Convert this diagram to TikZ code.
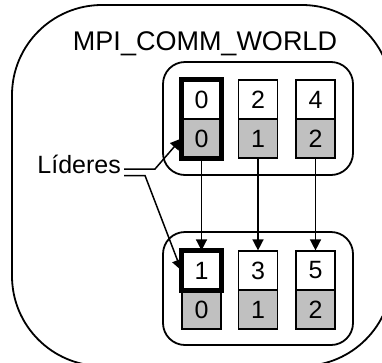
\documentclass[tikz,border=0pt]{standalone}
\usepackage{fontspec}
\setmainfont{Liberation Sans}
\usetikzlibrary{arrows.meta}
\definecolor{cellgray}{RGB}{192,192,192}
\begin{document}
\begin{tikzpicture}[x=1pt,y=-1pt,
  cell/.style={draw, line width=1.2pt, minimum width=39pt, minimum height=39pt, inner sep=0pt, font=\fontsize{25}{25}\selectfont},
  graycell/.style={cell, fill=cellgray},
  group/.style={draw, line width=1.8pt, rounded corners=22pt, minimum width=190pt, minimum height=113pt, inner sep=0pt},
  conn/.style={line width=1.5pt, -{Triangle[length=11pt,width=11pt]}}]
\useasboundingbox (0,0) rectangle (382,362);
\node[draw, line width=1.8pt, rounded corners=90pt, minimum width=380pt, minimum height=361pt, inner sep=0pt] (world) at (202,185.5) {};
\node[font=\fontsize{27}{27}\selectfont] (title) at (205,44) {MPI\_COMM\_WORLD};
\node[group] (g1) at (258,118.5) {};
\node[group] (g2) at (258,288.5) {};
% top row
\node[cell] (t0a) at (201.5,99.5) {0};
\node[graycell] (t0b) at (201.5,138.5) {0};
\node[cell] (t2a) at (258,99.5) {2};
\node[graycell] (t2b) at (258,138.5) {1};
\node[cell] (t4a) at (315.5,99.5) {4};
\node[graycell] (t4b) at (315.5,138.5) {2};
\draw[line width=4.5pt] (t0a.north west) rectangle (t0b.south east);
% bottom row
\node[cell] (b1a) at (201.5,270.5) {1};
\node[graycell, line width=2.2pt] (b1b) at (201.5,309.5) {0};
\node[cell] (b3a) at (258,270.5) {3};
\node[graycell] (b3b) at (258,309.5) {1};
\node[cell] (b5a) at (315.5,270.5) {5};
\node[graycell] (b5b) at (315.5,309.5) {2};
\draw[line width=4.5pt] (b1a.north west) rectangle (b1a.south east);
% connectors
\draw[conn] (t0b.south) -- (b1a.north);
\draw[conn] (t2b.south) -- (b3a.north);
\draw[conn] (t4b.south) -- (b5a.north);
% leaders
\node[font=\fontsize{25}{25}\selectfont, anchor=base east, inner sep=0pt] (lid) at (121,173) {Líderes};
\coordinate (la) at (124,169);
\coordinate (lb) at (155,169);
\coordinate (lc) at (124,175.5);
\coordinate (ld) at (145,175.5);
\draw[conn] (la) -- (lb) -- (t0b.west);
\draw[conn] (lc) -- (ld) -- (b1a.west);
\end{tikzpicture}
\end{document}
